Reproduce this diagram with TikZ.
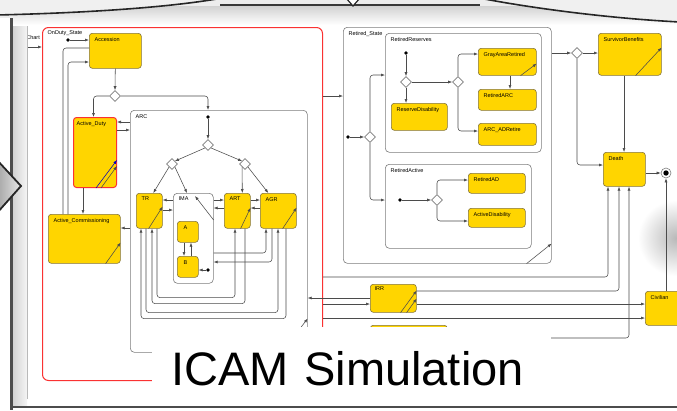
\documentclass[tikz,border=0pt]{standalone}
\usepackage{fontspec}
\setmainfont{Liberation Sans}
\usepackage{tikz}
\usetikzlibrary{shapes.geometric, arrows.meta}
\definecolor{stateyellow}{RGB}{255,213,0}
\definecolor{stateedge}{RGB}{130,115,60}
\definecolor{groupedge}{RGB}{125,125,125}
\definecolor{dutyred}{RGB}{250,50,50}
\definecolor{wirecolor}{RGB}{75,75,75}
\tikzstyle{statebox} = [rectangle, rounded corners=3pt, draw=stateedge, line width=0.6pt, fill=stateyellow, anchor=north west, inner sep=0pt]
\tikzstyle{groupbox} = [rectangle, rounded corners=4pt, draw=groupedge, line width=0.6pt, fill=white, anchor=north west, inner sep=0pt]
\tikzstyle{boxname} = [anchor=north west, inner sep=0pt, xshift=5.5pt, yshift=-4pt, font=\fontsize{5.5}{6}\selectfont]
\tikzstyle{junction} = [diamond, draw=groupedge, fill=white, line width=0.6pt, minimum size=11pt, inner sep=0pt]
\tikzstyle{initdot} = [circle, fill=black, minimum size=3.6pt, inner sep=0pt]
\tikzstyle{finalstate} = [circle, draw=groupedge, fill=white, line width=0.6pt, minimum size=10pt, inner sep=0pt]
\tikzstyle{arrow} = [draw=wirecolor, line width=0.55pt, rounded corners=3pt, -{Latex[length=4pt,width=3pt]}]
\tikzstyle{wire} = [draw=wirecolor, line width=0.55pt, rounded corners=3pt]

\begin{document}
\begin{tikzpicture}[x=1pt, y=-1pt]
\useasboundingbox (0,0) rectangle (677,410);
\fill[white] (0,0) rectangle (677,410);
% soft shadow at the right edge
\shade[inner color=gray!55, outer color=white] (676,238) circle (38pt);

% on duty part
\node[groupbox, draw=dutyred, fill=none, line width=1pt, rounded corners=6pt, minimum width=280pt, minimum height=353pt, label={[boxname, yshift=1pt]north west:OnDuty\_State}] (OnDuty) at (42,27) {};
\node[statebox, minimum width=52pt, minimum height=35pt, label={[boxname]north west:Accession}] (Accession) at (89,33) {};
\node[statebox, draw=dutyred, line width=1pt, minimum width=43pt, minimum height=70pt, label={[boxname, xshift=-2pt]north west:Active\_Duty}] (ActiveDuty) at (73,117) {};
\node[statebox, minimum width=72pt, minimum height=49pt, label={[boxname]north west:Active\_Commissioning}] (ActiveComm) at (48,214) {};
\node[groupbox, minimum width=177pt, minimum height=242pt, label={[boxname]north west:ARC}] (ARC) at (130,110) {};
\node[statebox, minimum width=26pt, minimum height=35pt, label={[boxname]north west:TR}] (TR) at (136,193) {};
\node[groupbox, minimum width=40pt, minimum height=90pt, label={[boxname]north west:IMA}] (IMA) at (173,193) {};
\node[statebox, minimum width=26pt, minimum height=35pt, label={[boxname]north west:ART}] (ART) at (224,193) {};
\node[statebox, minimum width=36pt, minimum height=35pt, label={[boxname]north west:AGR}] (AGR) at (260,193) {};
\node[statebox, minimum width=21pt, minimum height=21pt, label={[boxname, xshift=1pt, yshift=-1pt]north west:A}] (A) at (177,221) {};
\node[statebox, minimum width=21pt, minimum height=21pt, label={[boxname, xshift=1pt, yshift=-1pt]north west:B}] (B) at (177,256) {};
\node[initdot] (ondutyinit) at (68,40) {};
\node[junction] (accjunction) at (115,96) {};
\node[initdot] (arcinit) at (208,117) {};
\node[junction] (arcjunction) at (208,145) {};
\node[junction] (trjunction) at (172,164) {};
\node[junction] (arjunction) at (245,164) {};
\node[initdot] (imainit) at (208,270) {};

% retired part
\node[groupbox, minimum width=208pt, minimum height=236pt, label={[boxname]north west:Retired\_State}] (RS) at (343,27) {};
\node[groupbox, minimum width=156pt, minimum height=119pt, label={[boxname]north west:RetiredReserves}] (RR) at (385,33) {};
\node[statebox, minimum width=56pt, minimum height=27pt, label={[boxname]north west:ReserveDisability}] (ReserveDisability) at (391,103) {};
\node[statebox, minimum width=58pt, minimum height=27pt, label={[boxname]north west:GrayAreaRetired}] (GrayAreaRetired) at (478,48) {};
\node[statebox, minimum width=58pt, minimum height=21pt, label={[boxname]north west:RetiredARC}] (RetiredARC) at (478,89) {};
\node[statebox, minimum width=58pt, minimum height=22pt, label={[boxname]north west:ARC\_ADRetire}] (ARCADRetire) at (478,123) {};
\node[groupbox, minimum width=146pt, minimum height=84pt, label={[boxname]north west:RetiredActive}] (RA) at (385,164) {};
\node[statebox, minimum width=57pt, minimum height=20pt, label={[boxname]north west:RetiredAD}] (RetiredAD) at (468,173) {};
\node[statebox, minimum width=57pt, minimum height=19pt, label={[boxname]north west:ActiveDisability}] (ActiveDisability) at (468,208) {};
\node[initdot] (rsinit) at (348,137) {};
\node[junction] (rsjunction) at (370,137) {};
\node[initdot] (rrinit) at (406,53) {};
\node[junction] (rrjunction) at (406,82) {};
\node[junction] (grayjunction) at (458,82) {};
\node[initdot] (rainit) at (400,200) {};
\node[junction] (rajunction) at (437,200) {};

% outer states
\node[junction] (retjunction) at (577,53) {};
\node[statebox, minimum width=63pt, minimum height=42pt, label={[boxname]north west:SurvivorBenefits}] (Survivor) at (598,33) {};
\node[statebox, minimum width=42pt, minimum height=34pt, label={[boxname]north west:Death}] (Death) at (603,152) {};
\node[finalstate] (final) at (666,173) {};
\fill[black] (final.center) circle (2.7pt);
\node[statebox, minimum width=46pt, minimum height=28pt, label={[boxname, xshift=-1pt, yshift=1pt]north west:IRR}] (IRR) at (370,284) {};
\node[statebox, minimum width=77pt, minimum height=20pt] (lowerstate) at (370,325) {};
\node[statebox, minimum width=45pt, minimum height=34pt, label={[boxname]north west:Civilian}] (Civilian) at (645,291) {};
\node[anchor=north east, inner sep=0pt, font=\fontsize{5.5}{6}\selectfont] (chartname) at (40,35) {Chart};

% on duty transitions
\coordinate (chartin) at (27,47);
\draw[arrow] (chartin) -- (OnDuty.west |- chartin);
\draw[arrow] (ondutyinit) -- (Accession.west |- ondutyinit);
\draw[wire] (Accession.west |- 0,48) -| ([xshift=15pt]ActiveComm.north west);
\draw[arrow] ([xshift=20pt]ActiveComm.north west) |- (Accession.west |- 0,62);
\draw[arrow] (Accession.south) -- (accjunction.north);
\draw[arrow] (accjunction.west) -| ([xshift=-1.5pt]ActiveDuty.north);
\draw[arrow] (accjunction.east) -| (arcinit |- ARC.north);
\draw[arrow] (ARC.west |- 0,122) -- (ActiveDuty.east |- 0,122);
\draw[arrow] (ActiveDuty.east |- 0,130) -- (ARC.west |- 0,130);
\draw[arrow] ([xshift=10pt]ActiveDuty.south west) -- ([xshift=10pt]ActiveDuty.south west |- ActiveComm.north);
\draw[arrow] (ARC.west |- 0,228) -- (ActiveComm.east |- 0,228);

% inside ARC
\draw[arrow] (arcinit) -- (arcjunction.north);
\draw[arrow] (arcjunction.south west) -- (trjunction.north east);
\draw[arrow] (arcjunction.south east) -- (arjunction.north west);
\draw[arrow] (trjunction.south west) -- ([xshift=4pt]TR.north);
\draw[arrow] (trjunction.south east) -- ([xshift=14pt]IMA.north west);
\draw[arrow] (arjunction.south west) -- ([xshift=5pt]ART.north);
\draw[arrow] (arjunction.south east) -- ([xshift=-10pt]AGR.north);
\draw[arrow] (IMA.east |- 0,220) -- ([xshift=22pt,yshift=-3pt]IMA.north west);
\draw[arrow] (IMA.west |- 0,200) -- (TR.east |- 0,200);
\draw[arrow] (TR.east |- 0,210) -- (IMA.west |- 0,210);
\draw[arrow] (IMA.east |- 0,200) -- (ART.west |- 0,200);
\draw[arrow] (ART.west |- 0,208) -- (IMA.east |- 0,208);
\draw[arrow] (ART.east |- 0,200) -- (AGR.west |- 0,200);
\draw[arrow] (AGR.west |- 0,208) -- (ART.east |- 0,208);
\draw[arrow] ([xshift=7pt]A.south west) -- ([xshift=7pt]B.north west);
\draw[arrow] ([xshift=14pt]B.north west) -- ([xshift=14pt]A.south west);
\draw[arrow] (imainit) -- (B.east |- imainit);
\draw[arrow] (IMA.east |- 0,253) -| ([xshift=6pt]AGR.south west);
\draw[arrow] ([xshift=12pt]AGR.south west) |- (IMA.east |- 0,262);
\draw[arrow] ([xshift=21pt]TR.south west) -- ++(0,69) -| ([xshift=11pt]ART.south west);
\draw[arrow] ([xshift=21pt]ART.south west) -- ++(0,75) -| ([xshift=16pt]TR.south west);
\draw[arrow] ([xshift=10pt]TR.south west) -- ++(0,84) -| ([xshift=18pt]AGR.south west);
\draw[arrow] ([xshift=26pt]AGR.south west) -- ++(0,90) -| ([xshift=5pt]TR.south west);

% self transitions
\draw[arrow, draw=blue!75!black] ([xshift=-21pt]ActiveDuty.south east) -- ([yshift=28pt]ActiveDuty.south east);
\draw[arrow] ([xshift=-16pt]ActiveDuty.south east) -- ([yshift=22pt]ActiveDuty.south east);
\draw[arrow] ([xshift=-15pt]ActiveComm.south east) -- ([yshift=21pt]ActiveComm.south east);
\draw[arrow] ([xshift=-14pt]TR.south east) -- ([yshift=22pt]TR.south east);
\draw[arrow] ([xshift=-10pt]ART.south east) -- ([yshift=21pt]ART.south east);
\draw[arrow] ([xshift=-14pt]AGR.south east) -- ([yshift=21pt]AGR.south east);
\draw[arrow] ([xshift=-26pt]ARC.south east) -- ([yshift=34pt]ARC.south east);
\draw[arrow] ([xshift=-16pt]IRR.south east) -- ([yshift=22pt]IRR.south east);
\draw[arrow] ([xshift=-10pt]IRR.south east) -- ([yshift=14pt]IRR.south east);
\draw[arrow] ([xshift=-26pt]Survivor.south east) -- ([yshift=28pt]Survivor.south east);
\draw[arrow] ([xshift=-16pt]GrayAreaRetired.south east) -- ([yshift=12pt]GrayAreaRetired.south east);
\draw[arrow] ([xshift=-25pt]RS.south east) -- ([yshift=20pt]RS.south east);

% retired transitions
\draw[arrow] (OnDuty.east |- 0,96) -- (RS.west |- 0,96);
\draw[arrow] (rsinit) -- (rsjunction.west);
\draw[arrow] (rsjunction.north) |- (RR.west |- 0,75);
\draw[arrow] (rsjunction.south) |- (RA.west |- 0,200);
\draw[arrow] (rrinit) -- (rrjunction.north);
\draw[arrow] (rrjunction.south) -- (rrjunction.south |- ReserveDisability.north);
\draw[arrow] (rrjunction.east) -- (grayjunction.west);
\draw[arrow] (grayjunction.north) |- (GrayAreaRetired.west |- 0,54);
\draw[arrow] (grayjunction.south) |- (ARCADRetire.west |- 0,131);
\draw[arrow] ([xshift=32pt]GrayAreaRetired.south west) -- ([xshift=32pt]RetiredARC.north west);
\draw[arrow] (rainit) -- (rajunction.west);
\draw[arrow] (rajunction.north) |- (RetiredAD.west |- 0,180);
\draw[arrow] (rajunction.south) |- (ActiveDisability.west |- 0,221);

% exits to survivor, death and civilian
\draw[arrow] (RS.east |- retjunction) -- (retjunction.west);
\draw[arrow] (retjunction.east) -- (Survivor.west |- retjunction);
\draw[arrow] (retjunction.south) |- (Death.west |- 0,165);
\draw[arrow] ([xshift=26pt]Survivor.south west) -- ([xshift=26pt]Survivor.south west |- Death.north);
\draw[arrow] (Death.east |- final) -- (final.west);
\draw[arrow] ([xshift=21pt]Civilian.north west) -- (final.south);
\draw[arrow] (OnDuty.east |- 0,277) -| ([xshift=5pt]Death.south west);
\draw[arrow] (IRR.east |- 0,291) -| ([xshift=16pt]Death.south west);
\draw[arrow] (lowerstate.east |- 0,338) -| ([xshift=26pt]Death.south west);
\draw[arrow] (IRR.west |- 0,298) -- (ARC.east |- 0,298);
\draw[arrow] (OnDuty.east |- 0,304) -- (IRR.west |- 0,304);
\draw[arrow] (IRR.east |- 0,304) -- (Civilian.west |- 0,304);
\draw[arrow] (OnDuty.east |- 0,318) -- (Civilian.west |- 0,318);

% caption panel
\node[fill=white, anchor=base west, text width=361pt, inner xsep=19pt, inner ysep=0pt, text height=58pt, text depth=17pt, font=\fontsize{47}{50}\selectfont] (title) at (152,385) {ICAM Simulation};

% window frame
\shade[left color=gray!35, right color=gray!8] (13,16) rectangle (27,406);
\draw[gray!60!black, line width=3pt] (11.5,16) -- (11.5,410);
\draw[gray!55, line width=0.6pt] (27.5,24) -- (27.5,399);
\draw[gray!60!black, line width=2pt] (10,407) -- (677,407);
\fill[gray!14] (0,0) rectangle (677,18);
\shade[top color=gray!35, bottom color=white] (13,6) rectangle (677,25);
\draw[gray!45!black, line width=1.2pt] (220,5) -- (480,5);

% callout shapes
\filldraw[fill=gray!12, draw=black!85, line width=1.6pt] (-3,-3) -- (-3,15) .. controls (80,13) and (170,8) .. (228,-3) -- cycle;
\filldraw[fill=gray!12, draw=black!85, line width=1.6pt] (474,-3) .. controls (540,10) and (620,19) .. (680,22) -- (680,-3) -- cycle;
\filldraw[fill=white, draw=black!85, line width=1.2pt] (346,-2) -- (353,6) -- (360,-2);
\shade[left color=gray!70, right color=gray!20, draw=black!85, line width=1.8pt] (-3,160) -- (21,186) -- (-3,213) -- cycle;
\end{tikzpicture}
\end{document}
